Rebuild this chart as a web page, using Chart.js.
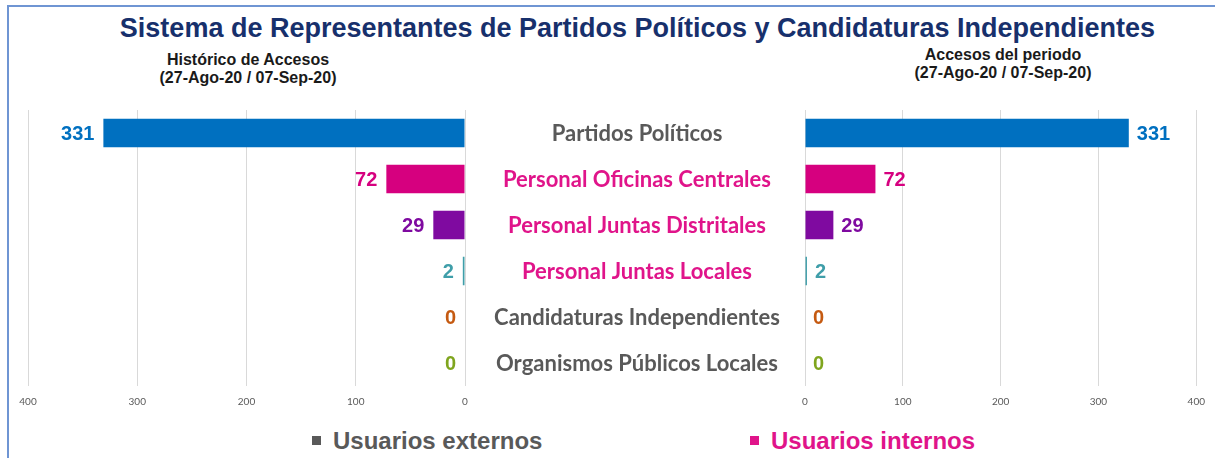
<!DOCTYPE html>
<html>
<head>
<meta charset="utf-8">
<script src="https://cdn.jsdelivr.net/npm/chart.js@4"></script>
<style>
  body { margin: 0; background: #fff; width: 1215px; height: 458px; overflow: hidden; position: relative; font-family: "Liberation Sans", Arial, sans-serif; }
  .frame { position: absolute; left: 7px; top: 5px; width: 1220px; height: 470px; border-top: 2px solid #6f95d3; border-left: 2px solid #6f95d3; }
  .title { position: absolute; left: 0; width: 1275px; top: 13px; text-align: center; font-weight: bold; font-size: 27px; color: #17306c; }
  .sub { position: absolute; font-weight: bold; font-size: 16px; color: #1a1a1a; text-align: center; line-height: 18px; }
  .legend { position: absolute; top: 427px; font-weight: bold; font-size: 24px; }
  .legend span.sq { display: inline-block; width: 9px; height: 9px; margin-right: 12px; vertical-align: 4px; }
  canvas { position: absolute; }
</style>
</head>
<body>
<div class="frame"></div>
<div class="title">Sistema de Representantes de Partidos Políticos y Candidaturas Independientes</div>
<div class="sub" style="left:98px; width:300px; top:51px;">Histórico de Accesos<br>(27-Ago-20 / 07-Sep-20)</div>
<div class="sub" style="left:853px; width:300px; top:46px;">Accesos del periodo<br>(27-Ago-20 / 07-Sep-20)</div>
<div class="legend" style="left:312px; color:#595959;"><span class="sq" style="background:#595959"></span>Usuarios externos</div>
<div class="legend" style="left:750px; color:#e0148a;"><span class="sq" style="background:#e0148a"></span>Usuarios internos</div>

<canvas id="historico" width="480" height="320" style="left:0; top:100px;"></canvas>
<canvas id="periodo" width="750" height="320" style="left:465px; top:100px;"></canvas>

<script>
const categories = ['Partidos Políticos', 'Personal Oficinas Centrales', 'Personal Juntas Distritales',
  'Personal Juntas Locales', 'Candidaturas Independientes', 'Organismos Públicos Locales'];
const historico = [331, 72, 29, 2, 0, 0];
const periodo = [331, 72, 29, 2, 0, 0];
const tickValues = [0, 100, 200, 300, 400];

const barColors = ['#0070c0', '#d6007f', '#7f0aa0', '#3f9ea9', '#c55a11', '#7fa51e'];
const valueColors = ['#0070c0', '#d6007f', '#7f0aa0', '#3f9ea9', '#c55a11', '#7fa51e'];
const categoryColors = ['#595959', '#e0148a', '#e0148a', '#e0148a', '#595959', '#595959'];

// numbers at the end of each bar, and the category names between both charts
const valueLabels = {
  id: 'valueLabels',
  afterDatasetsDraw(chart, args, opts) {
    const ctx = chart.ctx;
    const meta = chart.getDatasetMeta(0);
    const data = chart.data.datasets[0].data;
    ctx.save();
    ctx.font = 'bold 20px "Liberation Sans", Arial, sans-serif';
    ctx.textBaseline = 'middle';
    ctx.textAlign = opts.side === 'left' ? 'right' : 'left';
    meta.data.forEach((bar, i) => {
      ctx.fillStyle = valueColors[i];
      const x = opts.side === 'left' ? bar.x - 9 : bar.x + 8;
      ctx.fillText(data[i], x, bar.y + 1);
    });
    if (opts.side === 'right') {
      ctx.font = 'bold 22px Lato, sans-serif';
      ctx.textAlign = 'center';
      const y = chart.scales.y;
      chart.data.labels.forEach((lab, i) => {
        ctx.fillStyle = categoryColors[i];
        ctx.fillText(lab, chart.chartArea.left - 168, y.getPixelForValue(i) + 1);
      });
    }
    ctx.restore();
  }
};

function xScale(reverse) {
  return {
    min: 0,
    max: 400,
    reverse: reverse,
    afterBuildTicks: (axis) => { axis.ticks = tickValues.map(v => ({ value: v })); },
    grid: { color: '#d9d9d9', drawTicks: false },
    border: { display: false },
    ticks: { color: '#595959', font: { family: 'Lato', size: 10 }, padding: 10 }
  };
}

function dataset(values) {
  return [{
    data: values,
    backgroundColor: barColors,
    borderWidth: 0,
    barPercentage: 0.62,
    categoryPercentage: 1
  }];
}

function options(side, padding) {
  return {
    indexAxis: 'y',
    responsive: false,
    animation: false,
    layout: { padding: padding },
    scales: {
      x: xScale(side === 'left'),
      y: { display: false }
    },
    plugins: { legend: { display: false }, tooltip: { enabled: false }, valueLabels: { side: side } }
  };
}

new Chart(document.getElementById('historico'), {
  type: 'bar',
  data: { labels: categories, datasets: dataset(historico) },
  options: options('left', { left: 28, right: 15, top: 10, bottom: 2 }),
  plugins: [valueLabels]
});

new Chart(document.getElementById('periodo'), {
  type: 'bar',
  data: { labels: categories, datasets: dataset(periodo) },
  options: options('right', { left: 340, right: 18, top: 10, bottom: 2 }),
  plugins: [valueLabels]
});
</script>
</body>
</html>
